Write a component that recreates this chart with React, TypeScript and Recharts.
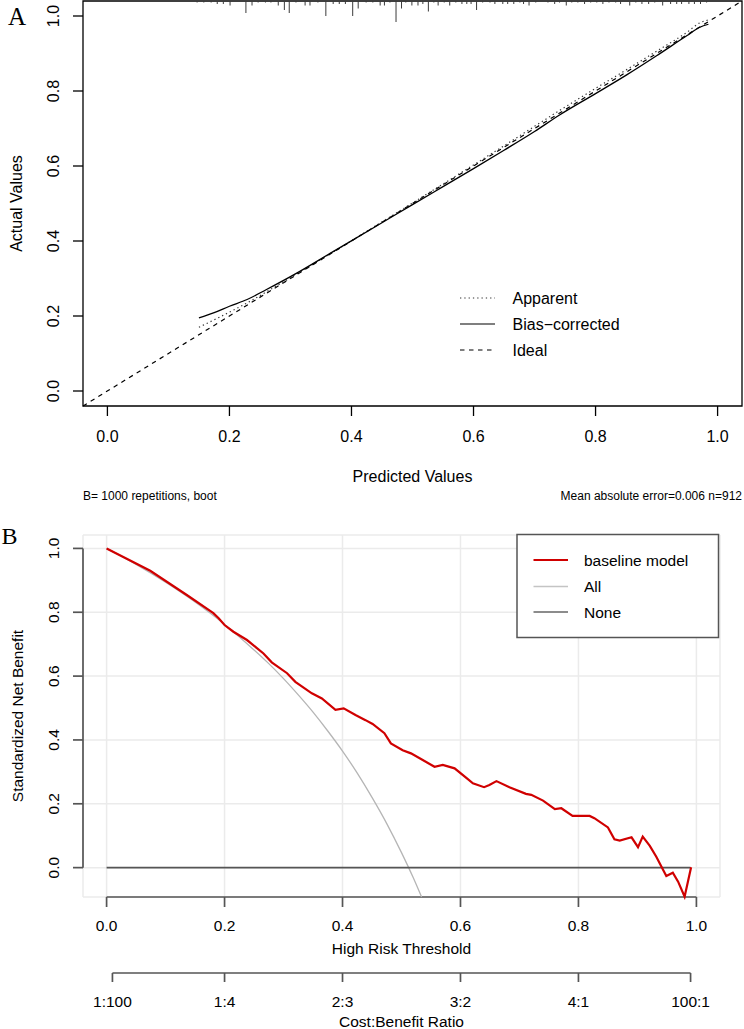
import { ComposedChart, Line, XAxis, YAxis, ReferenceLine, ReferenceArea, CartesianGrid } from 'recharts';

const SANS = '"Liberation Sans", Arial, Helvetica, sans-serif';
const SERIF = '"Liberation Serif", "Times New Roman", serif';

// ---------- A: calibration curve ----------
const calTicks = [0, 0.2, 0.4, 0.6, 0.8, 1.0];
const calLim: [number, number] = [-0.04, 1.04];

const apparentX = [0.15, 0.185, 0.229, 0.28, 0.35, 0.45, 0.55, 0.65, 0.741, 0.8, 0.851, 0.9, 0.95, 0.971, 0.984];
const apparentY = [0.17, 0.198, 0.235, 0.283, 0.351, 0.451, 0.552, 0.654, 0.748, 0.807, 0.857, 0.906, 0.957, 0.982, 0.989];

const biasX = [0.15, 0.175, 0.2, 0.229, 0.26, 0.311, 0.365, 0.441, 0.5, 0.55, 0.6, 0.65, 0.7, 0.741, 0.8, 0.851, 0.9, 0.95, 0.971, 0.985];
const biasY = [0.195, 0.209, 0.226, 0.244, 0.27, 0.315, 0.367, 0.44, 0.497, 0.545, 0.593, 0.642, 0.692, 0.736, 0.793, 0.843, 0.894, 0.948, 0.97, 0.978];

const idealX = [-0.04, 1.04];
const idealY = [-0.04, 1.04];

// histogram of predicted probabilities along the top edge
const rugX = [
  0.147, 0.158, 0.17, 0.18, 0.19, 0.201, 0.227, 0.237, 0.247, 0.259,
  0.268, 0.28, 0.29, 0.298, 0.309, 0.324, 0.332, 0.345, 0.358, 0.37,
  0.38, 0.39, 0.402, 0.411, 0.424, 0.435, 0.447, 0.454, 0.463, 0.473,
  0.482, 0.489, 0.499, 0.509, 0.517, 0.526, 0.535, 0.542, 0.552, 0.561,
  0.571, 0.581, 0.589, 0.596, 0.605, 0.615, 0.627, 0.635, 0.648, 0.656,
  0.666, 0.676, 0.682, 0.691, 0.702, 0.722, 0.733, 0.741, 0.752, 0.761,
  0.771, 0.782, 0.792, 0.802, 0.812, 0.822, 0.833, 0.841, 0.856, 0.866,
  0.876, 0.887, 0.897, 0.91, 0.923, 0.933, 0.941, 0.953, 0.962, 0.972,
  0.982,
];
const rugCount = [
  1, 1, 1, 2, 2, 3, 8, 3, 1, 1,
  1, 3, 6, 8, 1, 3, 3, 1, 10, 2,
  2, 2, 10, 5, 1, 1, 3, 3, 1, 14,
  5, 1, 3, 3, 2, 7, 1, 3, 1, 3,
  1, 2, 2, 2, 6, 1, 1, 2, 2, 2,
  2, 1, 2, 3, 1, 1, 2, 1, 3, 1,
  1, 2, 1, 1, 2, 1, 1, 2, 3, 1,
  2, 2, 1, 3, 2, 2, 2, 2, 2, 2,
  1,
];

// ---------- B: decision curve ----------
const dcaTicks = [0, 0.2, 0.4, 0.6, 0.8, 1.0];
const dcaXLim: [number, number] = [-0.04, 1.04];
const dcaYLim: [number, number] = [-0.092, 1.042];

const modelX = [
  0, 0.035, 0.074, 0.136, 0.181, 0.19, 0.2, 0.215, 0.238, 0.266,
  0.28, 0.306, 0.32, 0.348, 0.365, 0.388, 0.402, 0.422, 0.439, 0.451,
  0.471, 0.482, 0.502, 0.516, 0.536, 0.556, 0.57, 0.59, 0.612, 0.621,
  0.64, 0.649, 0.661, 0.683, 0.711, 0.72, 0.74, 0.76, 0.771, 0.79,
  0.819, 0.827, 0.85, 0.861, 0.87, 0.89, 0.901, 0.909, 0.921, 0.932,
  0.949, 0.96, 0.969, 0.98, 0.991,
];
const modelY = [
  1.0, 0.967, 0.93, 0.854, 0.797, 0.781, 0.76, 0.739, 0.713, 0.671,
  0.643, 0.609, 0.582, 0.546, 0.53, 0.494, 0.499, 0.478, 0.462, 0.45,
  0.421, 0.389, 0.368, 0.358, 0.337, 0.316, 0.322, 0.311, 0.278, 0.264,
  0.252, 0.259, 0.271, 0.252, 0.231, 0.228, 0.21, 0.183, 0.186, 0.162,
  0.162, 0.155, 0.126, 0.089, 0.085, 0.095, 0.064, 0.097, 0.068, 0.034,
  -0.026, -0.016, -0.044, -0.091, 0.001,
];

const allX = [0, 0.05, 0.1, 0.15, 0.2, 0.25, 0.275, 0.3, 0.325, 0.35, 0.375, 0.4, 0.425, 0.45, 0.475, 0.5, 0.52, 0.534];
const allY = [1.0, 0.95, 0.894, 0.832, 0.762, 0.682, 0.639, 0.592, 0.541, 0.487, 0.428, 0.365, 0.296, 0.22, 0.138, 0.047, -0.032, -0.092];

const noneX = [0, 0.99];
const noneY = [0, 0];

const cbTicks = [1 / 101, 0.2, 0.4, 0.6, 0.8, 100 / 101];
const cbLabels = ['1:100', '1:4', '2:3', '3:2', '4:1', '100:1'];

const toPoints = (xs: number[], ys: number[]) => xs.map((x, i) => ({ x, y: ys[i] }));

// each rug tick hangs from the top edge; a null breaks the path between ticks
const rugPoints = rugX.flatMap((x, i) => [
  { x, y: 0 },
  { x, y: rugCount[i] },
  { x, y: null },
]);

const fmt1 = (v: number) => Number(v).toFixed(1);

const RotatedTick = (props: any) => {
  const { x, y, payload, size } = props;
  return (
    <text x={x} y={y} transform={`rotate(-90 ${x} ${y})`} textAnchor="middle" fontFamily={SANS} fontSize={size} fill="#000">
      {fmt1(payload.value)}
    </text>
  );
};

const CalibrationPanel = () => (
  <ComposedChart width={744} height={500} margin={{ top: 1, right: 2, bottom: 34, left: 0 }}>
    <XAxis
      type="number" dataKey="x" domain={calLim} ticks={calTicks} interval={0}
      axisLine={false} tickSize={10} tickMargin={15} height={60}
      tickLine={{ stroke: '#000', strokeWidth: 1.3 }}
      tick={{ fill: '#000', fontSize: 16, fontFamily: SANS }}
      tickFormatter={fmt1}
    />
    <YAxis
      type="number" domain={calLim} ticks={calTicks} interval={0} width={83}
      axisLine={false} tickSize={10} tickMargin={14}
      tickLine={{ stroke: '#000', strokeWidth: 1.3 }}
      tick={(p: any) => <RotatedTick {...p} size={16} />}
    />
    <YAxis yAxisId="rug" type="number" domain={[0, 270]} reversed hide />
    <ReferenceArea x1={calLim[0]} x2={calLim[1]} y1={calLim[0]} y2={calLim[1]} fill="none" stroke="#000" strokeWidth={1.3} fillOpacity={0} ifOverflow="visible" />
    <Line data={rugPoints} yAxisId="rug" dataKey="y" type="linear" stroke="#3a3a3a" strokeWidth={1} dot={false} connectNulls={false} isAnimationActive={false} />
    <Line data={toPoints(idealX, idealY)} dataKey="y" type="linear" stroke="#000" strokeWidth={1.2} strokeDasharray="4.5 4.5" dot={false} isAnimationActive={false} />
    <Line data={toPoints(apparentX, apparentY)} dataKey="y" type="monotone" stroke="#333" strokeWidth={1.2} strokeDasharray="1.3 3" dot={false} isAnimationActive={false} />
    <Line data={toPoints(biasX, biasY)} dataKey="y" type="monotone" stroke="#000" strokeWidth={1.3} dot={false} isAnimationActive={false} />
  </ComposedChart>
);

const DecisionPanel = () => (
  <ComposedChart width={744} height={460} margin={{ top: 35, right: 24, bottom: 3, left: 0 }}>
    <CartesianGrid stroke="#ebebeb" strokeWidth={1.5} />
    <XAxis
      type="number" dataKey="x" domain={dcaXLim} ticks={dcaTicks} interval={0}
      axisLine={false} tickSize={10} tickMargin={13} height={60}
      tickLine={{ stroke: '#555', strokeWidth: 1.7 }}
      tick={{ fill: '#000', fontSize: 15.5, fontFamily: SANS }}
      tickFormatter={fmt1}
    />
    <YAxis
      type="number" domain={dcaYLim} ticks={dcaTicks} interval={0} width={83}
      axisLine={false} tickSize={10} tickMargin={14}
      tickLine={{ stroke: '#555', strokeWidth: 1.7 }}
      tick={(p: any) => <RotatedTick {...p} size={15.5} />}
    />
    <ReferenceLine segment={[{ x: dcaTicks[0], y: dcaYLim[0] }, { x: dcaTicks[dcaTicks.length - 1], y: dcaYLim[0] }]} stroke="#555" strokeWidth={1.7} ifOverflow="visible" />
    <ReferenceLine segment={[{ x: dcaXLim[0], y: dcaTicks[0] }, { x: dcaXLim[0], y: dcaTicks[dcaTicks.length - 1] }]} stroke="#555" strokeWidth={1.7} ifOverflow="visible" />
    <Line data={toPoints(allX, allY)} dataKey="y" type="monotone" stroke="#b5b5b5" strokeWidth={1.3} dot={false} isAnimationActive={false} />
    <Line data={toPoints(noneX, noneY)} dataKey="y" type="linear" stroke="#555" strokeWidth={1.7} dot={false} isAnimationActive={false} />
    <Line data={toPoints(modelX, modelY)} dataKey="y" type="linear" stroke="#d00000" strokeWidth={2.2} dot={false} isAnimationActive={false} />
  </ComposedChart>
);

// second horizontal scale: threshold expressed as cost:benefit
const CostBenefitAxis = () => (
  <ComposedChart width={744} height={69} margin={{ top: 2, right: 24, bottom: 16, left: 83 }}>
    <XAxis
      type="number" dataKey="x" domain={dcaXLim} ticks={cbTicks} interval={0}
      axisLine={false} tickSize={9} tickMargin={14} height={40}
      tickLine={{ stroke: '#555', strokeWidth: 1.7 }}
      tick={{ fill: '#000', fontSize: 15.5, fontFamily: SANS }}
      tickFormatter={(v: number) => cbLabels[cbTicks.indexOf(v)] ?? ''}
    />
    <YAxis type="number" domain={[0, 1]} hide />
    <Line
      data={[{ x: cbTicks[0], y: 0 }, { x: cbTicks[cbTicks.length - 1], y: 0 }]}
      dataKey="y" type="linear" stroke="#555" strokeWidth={1.7} dot={false} isAnimationActive={false}
    />
  </ComposedChart>
);

const calLegend = [
  { label: 'Apparent', dash: '1.3 3', color: '#333', y: 298 },
  { label: 'Bias\u2212corrected', dash: undefined, color: '#000', y: 324 },
  { label: 'Ideal', dash: '4.5 4.5', color: '#000', y: 350 },
];

const dcaLegend = [
  { label: 'baseline model', color: '#d00000', width: 2.2, y: 560 },
  { label: 'All', color: '#c4c4c4', width: 1.5, y: 586.5 },
  { label: 'None', color: '#666', width: 1.7, y: 612 },
];

const Annotations = () => (
  <svg width={744} height={1029} style={{ position: 'absolute', left: 0, top: 0, pointerEvents: 'none' }}>
    <text x={8} y={25} fontFamily={SERIF} fontSize={25} fill="#000">A</text>
    <text x={1.5} y={544} fontFamily={SERIF} fontSize={24} fill="#000">B</text>

    <g fontFamily={SANS} fill="#000">
      <text x={22} y={203.5} fontSize={16} textAnchor="middle" transform="rotate(-90 22 203.5)">Actual Values</text>
      <text x={412.5} y={481.5} fontSize={16} textAnchor="middle">Predicted Values</text>
      <text x={83} y={500} fontSize={12}>B= 1000 repetitions, boot</text>
      <text x={742} y={500} fontSize={12} textAnchor="end">Mean absolute error=0.006 n=912</text>

      {calLegend.map((d) => (
        <g key={d.label}>
          <line x1={460} x2={495} y1={d.y} y2={d.y} stroke={d.color} strokeWidth={1.2} strokeDasharray={d.dash} />
          <text x={512.5} y={d.y + 5.7} fontSize={16}>{d.label}</text>
        </g>
      ))}

      <text x={23} y={716} fontSize={15.5} textAnchor="middle" transform="rotate(-90 23 716)">Standardized Net Benefit</text>
      <text x={401.5} y={953.8} fontSize={15.5} textAnchor="middle">High Risk Threshold</text>
      <text x={401.5} y={1026.5} fontSize={15.5} textAnchor="middle">Cost:Benefit Ratio</text>

      <rect x={517} y={534.5} width={201.5} height={103} fill="#fff" stroke="#555" strokeWidth={1.5} />
      {dcaLegend.map((d) => (
        <g key={d.label}>
          <line x1={533.5} x2={568} y1={d.y} y2={d.y} stroke={d.color} strokeWidth={d.width} />
          <text x={584} y={d.y + 5.5} fontSize={15.5}>{d.label}</text>
        </g>
      ))}
    </g>
  </svg>
);

export default function App() {
  return (
    <div style={{ position: 'absolute', left: 0, top: 0, width: 744, height: 1029, background: '#fff' }}>
      <div style={{ position: 'absolute', left: 0, top: 0 }}>
        <CalibrationPanel />
      </div>
      <div style={{ position: 'absolute', left: 0, top: 500 }}>
        <DecisionPanel />
      </div>
      <div style={{ position: 'absolute', left: 0, top: 960 }}>
        <CostBenefitAxis />
      </div>
      <Annotations />
    </div>
  );
}
